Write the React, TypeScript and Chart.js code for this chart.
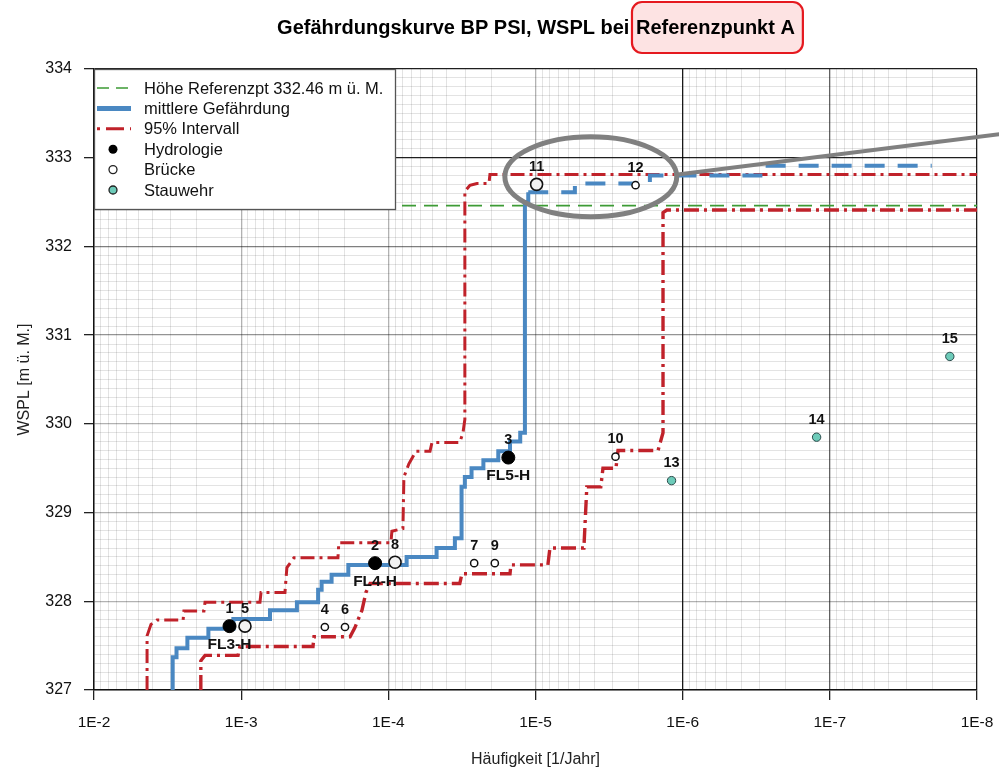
import React, { useEffect, useRef } from 'react';
import { Chart, registerables } from 'chart.js';

Chart.register(...registerables);

const FONT = '"Liberation Sans", Arial, Helvetica, sans-serif';

// ---------- axis ticks ----------
const xDecades = [1e-2, 1e-3, 1e-4, 1e-5, 1e-6, 1e-7, 1e-8];
const xTickLabels = ['1E-2', '1E-3', '1E-4', '1E-5', '1E-6', '1E-7', '1E-8'];
const yMajorTicks = [327, 328, 329, 330, 331, 332, 333, 334];

// ---------- reference height ----------
const referenceLevel = 332.46;

// ---------- mittlere Gefährdung (step curve: frequency where the level rises) ----------
const meanFreq = [2.92e-3, 2.92e-3, 2.75e-3, 2.32e-3, 1.67e-3, 1.13e-3, 6.37e-4, 4.18e-4, 3.0e-4, 2.84e-4, 2.43e-4, 1.87e-4, 7.51e-5, 4.7e-5, 3.53e-5, 3.18e-5, 3.18e-5, 3.02e-5, 2.72e-5, 2.26e-5, 1.79e-5, 1.49e-5, 1.27e-5, 1.18e-5, 1.18e-5, 1.12e-5, 5.4e-6, 1.67e-6, 2.85e-7, 2.03e-8];
const meanLevel = [327.0, 327.37, 327.47, 327.59, 327.69, 327.8, 327.9, 327.99, 328.13, 328.22, 328.3, 328.41, 328.5, 328.6, 328.71, 328.8, 329.29, 329.4, 329.5, 329.59, 329.69, 329.8, 329.9, 330.01, 332.5, 332.61, 332.71, 332.8, 332.91, 332.91];

// ---------- 95% Intervall ----------
const upperFreq = [4.36e-3, 4.36e-3, 4.1e-3, 3.73e-3, 2.48e-3, 2.45e-3, 1.79e-3, 1.76e-3, 7.45e-4, 7.33e-4, 5.04e-4, 4.89e-4, 4.38e-4, 2.2e-4, 2.17e-4, 9.6e-5, 9.46e-5, 7.96e-5, 7.84e-5, 7.25e-5, 6.49e-5, 5.21e-5, 5.05e-5, 3.27e-5, 3.11e-5, 3.02e-5, 3.02e-5, 2.79e-5, 2.5e-5, 2.07e-5, 2.04e-5, 1e-8];
const upperLevel = [327.0, 327.61, 327.74, 327.79, 327.79, 327.89, 327.89, 327.99, 327.99, 328.1, 328.1, 328.38, 328.49, 328.49, 328.66, 328.66, 328.79, 328.82, 329.4, 329.55, 329.69, 329.69, 329.79, 329.79, 329.9, 330.05, 332.62, 332.69, 332.71, 332.71, 332.81, 332.81];
const lowerFreq = [1.88e-3, 1.88e-3, 1.76e-3, 1.05e-3, 1.02e-3, 3.25e-4, 3.2e-4, 1.82e-4, 1.69e-4, 1.51e-4, 1.42e-4, 1.33e-4, 3.27e-5, 3.16e-5, 1.49e-5, 1.47e-5, 8.24e-6, 7.98e-6, 4.69e-6, 4.48e-6, 3.6e-6, 3.48e-6, 2.84e-6, 2.75e-6, 1.47e-6, 1.36e-6, 1.36e-6, 1.28e-6, 1e-8];
const lowerLevel = [327.0, 327.33, 327.39, 327.39, 327.49, 327.49, 327.6, 327.6, 327.7, 327.9, 328.1, 328.2, 328.2, 328.31, 328.31, 328.41, 328.41, 328.6, 328.6, 329.29, 329.29, 329.5, 329.5, 329.7, 329.7, 329.9, 332.38, 332.41, 332.41];

// ---------- single events ----------
const hydroFreq = [1.2e-3, 1.23e-4, 1.53e-5];
const hydroLevel = [327.72, 328.43, 329.62];
const hydroIds = ['1', '2', '3'];
const hydroNames = ['FL3-H', 'FL4-H', 'FL5-H'];

const bridgeMainFreq = [9.42e-4, 9.0e-5, 9.83e-6];
const bridgeMainLevel = [327.72, 328.44, 332.7];
const bridgeMainIds = ['5', '8', '11'];

const bridgeMinorFreq = [2.7e-4, 1.97e-4, 2.61e-5, 1.89e-5, 2.86e-6, 2.09e-6];
const bridgeMinorLevel = [327.71, 327.71, 328.43, 328.43, 329.63, 332.69];
const bridgeMinorIds = ['4', '6', '7', '9', '10', '12'];

const wehrFreq = [1.19e-6, 1.23e-7, 1.53e-8];
const wehrLevel = [329.36, 329.85, 330.76];
const wehrIds = ['13', '14', '15'];

// ---------- highlight annotation (data units) ----------
const focusFreq = 4.21e-6;
const focusLevel = 332.786;
const focusHalfDecades = 0.584;
const focusHalfMeters = 0.451;
const pointerEndFreq = 6e-9;
const pointerEndLevel = 333.28;

const legendLabels = [
  'Höhe Referenzpt 332.46 m ü. M.',
  'mittlere Gefährdung',
  '95% Intervall',
  'Hydrologie',
  'Brücke',
  'Stauwehr',
];

const titleMain = 'Gefährdungskurve BP PSI, WSPL bei ';
const titleHighlight = 'Referenzpunkt A';

const BLUE = '#4a88c2';
const RED = '#c0222a';
const GREEN = '#3d9b35';
const TEAL = '#6dcbb9';

const pts = (xs: number[], ys: number[]) => xs.map((x, i) => ({ x, y: ys[i] }));

const decadeIndex = (v: number) =>
  xDecades.findIndex((d) => Math.abs(Math.log10(d) - Math.log10(v)) < 1e-6);
const isInt = (v: number) => Math.abs(v - Math.round(v)) < 1e-6;

const xGridValues: number[] = [];
for (let e = -8; e <= -2; e++) {
  for (let k = 1; k <= 9; k++) {
    const v = k * Math.pow(10, e);
    if (v > 1.0000001e-2) break;
    xGridValues.push(v);
  }
}
const yGridValues: number[] = [];
for (let i = 0; i <= 70; i++) yGridValues.push(Math.round((327 + i * 0.1) * 10) / 10);

const MINOR = 'rgba(0,0,0,0.11)';
const xMajorColor = (v: number) => {
  const i = decadeIndex(v);
  if (i === 4) return 'rgba(0,0,0,0.9)';
  if (i === 5) return 'rgba(0,0,0,0.62)';
  if (i === 6) return 'rgba(0,0,0,0.88)';
  return 'rgba(0,0,0,0.3)';
};
const yMajorColor = (v: number) => {
  const r = Math.round(v);
  if (r === 334 || r === 333) return 'rgba(0,0,0,0.88)';
  if (r === 332) return 'rgba(0,0,0,0.5)';
  if (r === 331) return 'rgba(0,0,0,0.42)';
  return 'rgba(0,0,0,0.3)';
};

const overlayPlugin = {
  id: 'overlay',
  afterDatasetsDraw(chart: any) {
    const { ctx } = chart;
    const xs = chart.scales.x;
    const ys = chart.scales.y;
    // highlight ellipse + pointer
    const cx = xs.getPixelForValue(focusFreq);
    const cy = ys.getPixelForValue(focusLevel);
    const rx = Math.abs(xs.getPixelForValue(focusFreq * Math.pow(10, -focusHalfDecades)) - cx);
    const ry = Math.abs(ys.getPixelForValue(focusLevel + focusHalfMeters) - cy);
    ctx.save();
    ctx.strokeStyle = '#808080';
    ctx.lineWidth = 5;
    ctx.beginPath();
    ctx.ellipse(cx, cy, rx, ry, 0, 0, Math.PI * 2);
    ctx.stroke();
    ctx.lineWidth = 4;
    ctx.beginPath();
    ctx.moveTo(cx + rx - 1, cy - 2);
    ctx.lineTo(xs.getPixelForValue(pointerEndFreq), ys.getPixelForValue(pointerEndLevel));
    ctx.stroke();
    ctx.restore();

    // point labels
    ctx.save();
    ctx.fillStyle = '#111';
    ctx.textAlign = 'center';
    ctx.textBaseline = 'middle';
    chart.data.datasets.forEach((ds: any, i: number) => {
      if (!ds.pointIds) return;
      const meta = chart.getDatasetMeta(i);
      meta.data.forEach((el: any, j: number) => {
        ctx.font = `bold 14.5px ${FONT}`;
        ctx.fillText(ds.pointIds[j], el.x, el.y - 17.5);
        if (ds.pointNames) {
          ctx.font = `bold 15.5px ${FONT}`;
          ctx.fillText(ds.pointNames[j], el.x, el.y + 18.5);
        }
      });
    });
    ctx.restore();
  },
  afterDraw(chart: any) {
    const { ctx, chartArea } = chart;
    // ----- title -----
    ctx.save();
    ctx.font = `bold 20px ${FONT}`;
    ctx.textBaseline = 'middle';
    ctx.textAlign = 'left';
    const w1 = ctx.measureText(titleMain).width;
    const w2 = ctx.measureText(titleHighlight).width;
    const center = (chartArea.left + chartArea.right) / 2;
    const x0 = center - (w1 + w2) / 2;
    const bx = x0 + w1 - 3;
    const bw = w2 + 12;
    const by = 2;
    const bh = 51;
    ctx.beginPath();
    ctx.roundRect(bx, by, bw, bh, 10);
    ctx.fillStyle = '#fde3e3';
    ctx.fill();
    ctx.lineWidth = 2.2;
    ctx.strokeStyle = '#e5191f';
    ctx.stroke();
    ctx.fillStyle = '#000';
    ctx.fillText(titleMain, x0, 28);
    ctx.fillText(titleHighlight, x0 + w1 + 1, 28);
    ctx.restore();

    // ----- legend -----
    ctx.save();
    const lx = chartArea.left;
    const ly = chartArea.top;
    ctx.fillStyle = '#ffffff';
    ctx.fillRect(lx, ly, 302, 141);
    ctx.strokeStyle = '#555';
    ctx.lineWidth = 1.3;
    ctx.strokeRect(lx + 0.5, ly + 0.5, 301, 140);
    const sx0 = lx + 3;
    const sx1 = lx + 37;
    const mx = lx + 19;
    const tx = lx + 50;
    const rowY = (i: number) => ly + 19 + i * 20.4;
    // green dashed
    ctx.strokeStyle = GREEN;
    ctx.lineWidth = 1.6;
    ctx.setLineDash([12, 7]);
    ctx.beginPath();
    ctx.moveTo(sx0, rowY(0));
    ctx.lineTo(sx1, rowY(0));
    ctx.stroke();
    // blue
    ctx.setLineDash([]);
    ctx.strokeStyle = BLUE;
    ctx.lineWidth = 5;
    ctx.beginPath();
    ctx.moveTo(sx0, rowY(1));
    ctx.lineTo(sx1, rowY(1));
    ctx.stroke();
    // red dash-dot
    ctx.strokeStyle = RED;
    ctx.lineWidth = 3;
    ctx.setLineDash([3, 6, 18, 6]);
    ctx.beginPath();
    ctx.moveTo(sx0, rowY(2));
    ctx.lineTo(sx1, rowY(2));
    ctx.stroke();
    ctx.setLineDash([]);
    // markers
    ctx.fillStyle = '#000';
    ctx.beginPath();
    ctx.arc(mx, rowY(3), 4.5, 0, Math.PI * 2);
    ctx.fill();
    ctx.lineWidth = 1.3;
    ctx.strokeStyle = '#222';
    ctx.fillStyle = '#fff';
    ctx.beginPath();
    ctx.arc(mx, rowY(4), 4, 0, Math.PI * 2);
    ctx.fill();
    ctx.stroke();
    ctx.fillStyle = TEAL;
    ctx.beginPath();
    ctx.arc(mx, rowY(5), 4, 0, Math.PI * 2);
    ctx.fill();
    ctx.stroke();
    // texts
    ctx.fillStyle = '#111';
    ctx.font = `16.5px ${FONT}`;
    ctx.textBaseline = 'middle';
    ctx.textAlign = 'left';
    legendLabels.forEach((t, i) => ctx.fillText(t, tx, rowY(i) + 1));
    ctx.restore();
  },
};

export default function App() {
  const ref = useRef<HTMLCanvasElement>(null);

  useEffect(() => {
    if (!ref.current) return;
    const chart = new Chart(ref.current, {
      type: 'line',
      data: {
        datasets: [
          {
            label: 'Hydrologie',
            data: pts(hydroFreq, hydroLevel),
            showLine: false,
            pointRadius: 6.5,
            pointBackgroundColor: '#000',
            pointBorderColor: '#000',
            pointBorderWidth: 1,
            order: 0,
            pointIds: hydroIds,
            pointNames: hydroNames,
          } as any,
          {
            label: 'Brücke',
            data: pts(bridgeMainFreq, bridgeMainLevel),
            showLine: false,
            pointRadius: 6,
            pointBackgroundColor: '#f2f2f2',
            pointBorderColor: '#111',
            pointBorderWidth: 1.6,
            order: 0,
            pointIds: bridgeMainIds,
          } as any,
          {
            label: 'Brücke klein',
            data: pts(bridgeMinorFreq, bridgeMinorLevel),
            showLine: false,
            pointRadius: 3.6,
            pointBackgroundColor: '#ffffff',
            pointBorderColor: '#111',
            pointBorderWidth: 1.5,
            order: 0,
            pointIds: bridgeMinorIds,
          } as any,
          {
            label: 'Stauwehr',
            data: pts(wehrFreq, wehrLevel),
            showLine: false,
            pointRadius: 4.2,
            pointBackgroundColor: TEAL,
            pointBorderColor: '#2b4a4a',
            pointBorderWidth: 1,
            order: 0,
            pointIds: wehrIds,
          } as any,
          {
            label: 'mittlere Gefährdung',
            data: pts(meanFreq, meanLevel),
            stepped: true,
            borderColor: BLUE,
            borderWidth: 4,
            pointRadius: 0,
            fill: false,
            order: 1,
            segment: {
              borderDash: (c: any) => (c.p0.parsed.y > 332.55 ? [20, 13] : undefined),
            },
          } as any,
          {
            label: '95% Intervall oben',
            data: pts(upperFreq, upperLevel),
            borderColor: RED,
            borderWidth: 3,
            borderDash: [14, 5, 3, 5],
            pointRadius: 0,
            tension: 0,
            fill: false,
            order: 2,
          },
          {
            label: '95% Intervall unten',
            data: pts(lowerFreq, lowerLevel),
            borderColor: RED,
            borderWidth: 3.4,
            borderDash: [15, 5, 3, 5],
            pointRadius: 0,
            tension: 0,
            fill: false,
            order: 2,
          },
          {
            label: 'Höhe Referenzpt',
            data: [
              { x: xDecades[0], y: referenceLevel },
              { x: xDecades[xDecades.length - 1], y: referenceLevel },
            ],
            borderColor: GREEN,
            borderWidth: 1.6,
            borderDash: [14, 8],
            pointRadius: 0,
            fill: false,
            order: 3,
          },
        ],
      },
      options: {
        responsive: false,
        devicePixelRatio: 1,
        animation: false,
        events: [],
        layout: { padding: { top: 69, right: 22, left: 0, bottom: 0 } },
        plugins: {
          legend: { display: false },
          title: { display: false },
          tooltip: { enabled: false },
        },
        scales: {
          x: {
            type: 'logarithmic',
            reverse: true,
            min: 1e-8,
            max: 1e-2,
            position: 'bottom',
            afterBuildTicks: (s: any) => {
              s.ticks = xGridValues.map((v) => ({ value: v, major: decadeIndex(v) >= 0 }));
            },
            afterFit: (s: any) => {
              s.height = 85;
            },
            ticks: {
              autoSkip: false,
              maxRotation: 0,
              minRotation: 0,
              padding: 13,
              color: '#111',
              font: { family: FONT, size: 15.5 },
              callback: (v: any) => {
                const i = decadeIndex(Number(v));
                return i >= 0 ? xTickLabels[i] : '';
              },
            },
            grid: {
              color: (c: any) =>
                c.tick && decadeIndex(c.tick.value) >= 0 ? xMajorColor(c.tick.value) : MINOR,
              lineWidth: (c: any) => (c.tick && decadeIndex(c.tick.value) >= 0 ? 1.3 : 1),
              tickLength: 10,
              tickColor: (c: any) =>
                c.tick && decadeIndex(c.tick.value) >= 0 ? '#222' : 'rgba(0,0,0,0)',
              tickWidth: 1.3,
            },
            border: { display: true, color: '#111', width: 1.5 },
            title: {
              display: true,
              text: 'Häufigkeit [1/Jahr]',
              color: '#222',
              font: { family: FONT, size: 16 },
              padding: { top: 0, bottom: 6 },
            },
          },
          y: {
            type: 'linear',
            min: 327,
            max: 334,
            afterBuildTicks: (s: any) => {
              s.ticks = yGridValues.map((v) => ({ value: v, major: isInt(v) }));
            },
            afterFit: (s: any) => {
              s.width = 94;
            },
            ticks: {
              autoSkip: false,
              padding: 12,
              color: '#111',
              font: { family: FONT, size: 16 },
              callback: (v: any) => {
                const n = Number(v);
                if (!isInt(n)) return '';
                const r = Math.round(n);
                return yMajorTicks.includes(r) ? String(r) : '';
              },
            },
            grid: {
              color: (c: any) => (c.tick && isInt(c.tick.value) ? yMajorColor(c.tick.value) : MINOR),
              lineWidth: (c: any) => (c.tick && isInt(c.tick.value) ? 1.3 : 1),
              tickLength: 10,
              tickColor: (c: any) =>
                c.tick && isInt(c.tick.value) ? '#222' : 'rgba(0,0,0,0)',
              tickWidth: 1.3,
            },
            border: { display: true, color: '#111', width: 1.5 },
            title: {
              display: true,
              text: 'WSPL [m ü. M.]',
              color: '#222',
              font: { family: FONT, size: 16 },
              padding: { top: 15, bottom: 0 },
            },
          },
        },
      } as any,
      plugins: [overlayPlugin],
    });
    return () => chart.destroy();
  }, []);

  return (
    <div style={{ position: 'absolute', left: 0, top: 0, width: 999, height: 775, background: '#fff' }}>
      <canvas ref={ref} width={999} height={775} style={{ display: 'block', width: 999, height: 775 }} />
    </div>
  );
}
